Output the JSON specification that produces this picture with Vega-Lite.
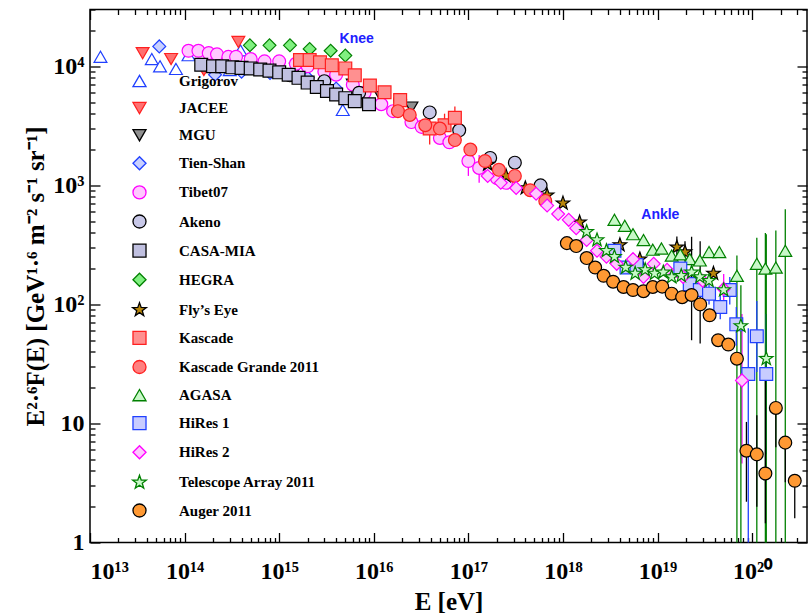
{
"$schema":"https://vega.github.io/schema/vega-lite/v6.json",
"width":717,"height":533,"autosize":"none",
"padding":{"left":90,"top":9.5,"right":2,"bottom":72},
"background":"white",
"config":{"view":{"stroke":"black","strokeWidth":1.5},
 "axis":{"labelFont":"Liberation Serif","labelFontSize":24,"labelFontWeight":"bold","labelColor":"black","titleFont":"Liberation Serif","titleFontSize":25,"titleFontWeight":"bold","titleColor":"black","grid":false,"domain":false,"tickColor":"black","tickWidth":1.3}},
"datasets":{"pts":[
{"s":"Grigorov","E":1.29e13,"F":12000},{"s":"Grigorov","E":4.5e13,"F":11500},{"s":"Grigorov","E":5.5e13,"F":10000},{"s":"Grigorov","E":8.1e13,"F":9500},{"s":"Grigorov","E":1.1e14,"F":12400},{"s":"Grigorov","E":3e14,"F":9300},{"s":"Grigorov","E":3.9e14,"F":13600},{"s":"Grigorov","E":4.7e15,"F":4300},
{"s":"JACEE","E":3.6e13,"F":12900},{"s":"JACEE","E":7.2e13,"F":11500},{"s":"JACEE","E":1.6e14,"F":9300},{"s":"JACEE","E":3.7e14,"F":16000},
{"s":"MGU","E":1.5e15,"F":9500},{"s":"MGU","E":3e15,"F":8800},{"s":"MGU","E":6e15,"F":7000},{"s":"MGU","E":1.2e16,"F":5500},{"s":"MGU","E":2.5e16,"F":4500},
{"s":"Tien-Shan","E":5.4e13,"F":14700},{"s":"Tien-Shan","E":2.1e14,"F":8500},{"s":"Tien-Shan","E":4e14,"F":9000},{"s":"Tien-Shan","E":8e14,"F":8800},{"s":"Tien-Shan","E":2e15,"F":8000},{"s":"Tien-Shan","E":4e15,"F":6500},
{"s":"Tibet07","E":1.1e14,"F":13500},{"s":"Tibet07","E":1.4e14,"F":13500},{"s":"Tibet07","E":1.8e14,"F":12900},{"s":"Tibet07","E":2.2e14,"F":12600},{"s":"Tibet07","E":2.9e14,"F":12000},{"s":"Tibet07","E":3.5e14,"F":12000},{"s":"Tibet07","E":5e14,"F":11500},{"s":"Tibet07","E":7e14,"F":11000},{"s":"Tibet07","E":1e15,"F":11000},{"s":"Tibet07","E":1.5e15,"F":10500},{"s":"Tibet07","E":2e15,"F":10000},{"s":"Tibet07","E":3e15,"F":9000},{"s":"Tibet07","E":4e15,"F":8500},{"s":"Tibet07","E":6e15,"F":7000},{"s":"Tibet07","E":8e15,"F":6000},{"s":"Tibet07","E":1.2e16,"F":4800},{"s":"Tibet07","E":1.6e16,"F":4200},{"s":"Tibet07","E":2.5e16,"F":3400},{"s":"Tibet07","E":3.2e16,"F":3100},{"s":"Tibet07","E":5e16,"F":2500},{"s":"Tibet07","E":6.3e16,"F":2300},{"s":"Tibet07","E":1e17,"F":1600,"lo":1200,"hi":2000},{"s":"Tibet07","E":1.3e17,"F":1400,"lo":1050,"hi":1800},{"s":"Tibet07","E":2e17,"F":1150},{"s":"Tibet07","E":2.5e17,"F":1050},
{"s":"Akeno","E":1.3e15,"F":8400},{"s":"Akeno","E":3e15,"F":7500},{"s":"Akeno","E":7e15,"F":6000},{"s":"Akeno","E":1.9e16,"F":5200},{"s":"Akeno","E":3.9e16,"F":4100},{"s":"Akeno","E":8e16,"F":2900},{"s":"Akeno","E":1.7e17,"F":1700},{"s":"Akeno","E":3.1e17,"F":1550},{"s":"Akeno","E":5.8e17,"F":1000},
{"s":"CASA-MIA","E":1.5e14,"F":10300},{"s":"CASA-MIA","E":2e14,"F":10000},{"s":"CASA-MIA","E":2.5e14,"F":10000},{"s":"CASA-MIA","E":3.2e14,"F":9800},{"s":"CASA-MIA","E":4e14,"F":9700},{"s":"CASA-MIA","E":5e14,"F":9600},{"s":"CASA-MIA","E":6.3e14,"F":9400},{"s":"CASA-MIA","E":7.9e14,"F":9200},{"s":"CASA-MIA","E":1e15,"F":8900},{"s":"CASA-MIA","E":1.26e15,"F":8500},{"s":"CASA-MIA","E":1.6e15,"F":8000},{"s":"CASA-MIA","E":2e15,"F":7300},{"s":"CASA-MIA","E":2.5e15,"F":6700},{"s":"CASA-MIA","E":3.2e15,"F":6200},{"s":"CASA-MIA","E":4e15,"F":5800},{"s":"CASA-MIA","E":5e15,"F":5400},{"s":"CASA-MIA","E":6.3e15,"F":5100},{"s":"CASA-MIA","E":8.9e15,"F":4800},
{"s":"HEGRA","E":4.9e14,"F":15000},{"s":"HEGRA","E":7.9e14,"F":15000},{"s":"HEGRA","E":1.3e15,"F":15000},{"s":"HEGRA","E":2.1e15,"F":14000},{"s":"HEGRA","E":3.5e15,"F":13500},{"s":"HEGRA","E":5e15,"F":12300},
{"s":"Fly’s Eye","E":1.6e17,"F":1500},{"s":"Fly’s Eye","E":2.5e17,"F":1200},{"s":"Fly’s Eye","E":4e17,"F":950},{"s":"Fly’s Eye","E":6.8e17,"F":826},{"s":"Fly’s Eye","E":1e18,"F":708},{"s":"Fly’s Eye","E":1.5e18,"F":490},{"s":"Fly’s Eye","E":4e18,"F":316},{"s":"Fly’s Eye","E":6.5e18,"F":240},{"s":"Fly’s Eye","E":1.6e19,"F":302,"lo":250,"hi":372},{"s":"Fly’s Eye","E":1.95e19,"F":275,"lo":230,"hi":340},{"s":"Fly’s Eye","E":3.9e19,"F":182},
{"s":"Kascade","E":1.66e15,"F":11300},{"s":"Kascade","E":2.1e15,"F":11300},{"s":"Kascade","E":2.7e15,"F":10800},{"s":"Kascade","E":3.6e15,"F":10200},{"s":"Kascade","E":5e15,"F":9600},{"s":"Kascade","E":6.3e15,"F":8400},{"s":"Kascade","E":9.1e15,"F":6900},{"s":"Kascade","E":1.3e16,"F":6050},{"s":"Kascade","E":1.9e16,"F":5200},{"s":"Kascade","E":3.9e16,"F":3000,"lo":2200,"hi":3900},{"s":"Kascade","E":5.6e16,"F":3200,"lo":2500,"hi":4000},{"s":"Kascade","E":7.2e16,"F":3700,"lo":2900,"hi":4600},
{"s":"Kascade Grande 2011","E":1.8e16,"F":4200},{"s":"Kascade Grande 2011","E":2.4e16,"F":3900},{"s":"Kascade Grande 2011","E":3.5e16,"F":3200},{"s":"Kascade Grande 2011","E":5e16,"F":3000},{"s":"Kascade Grande 2011","E":7.2e16,"F":2400},{"s":"Kascade Grande 2011","E":1.05e17,"F":2000},{"s":"Kascade Grande 2011","E":1.5e17,"F":1600},{"s":"Kascade Grande 2011","E":2.1e17,"F":1350},{"s":"Kascade Grande 2011","E":3.1e17,"F":1200},{"s":"Kascade Grande 2011","E":4.5e17,"F":910},{"s":"Kascade Grande 2011","E":6.5e17,"F":740},
{"s":"AGASA","E":3.5e18,"F":513},{"s":"AGASA","E":4.5e18,"F":457},{"s":"AGASA","E":5.5e18,"F":389},{"s":"AGASA","E":7.1e18,"F":347},{"s":"AGASA","E":8.9e18,"F":288},{"s":"AGASA","E":1.1e19,"F":295},{"s":"AGASA","E":1.41e19,"F":257},{"s":"AGASA","E":1.74e19,"F":263},{"s":"AGASA","E":2.19e19,"F":240},{"s":"AGASA","E":2.8e19,"F":234},{"s":"AGASA","E":3.5e19,"F":275},{"s":"AGASA","E":4.5e19,"F":275},{"s":"AGASA","E":6.9e19,"F":174,"lo":1,"hi":257},{"s":"AGASA","E":1.12e20,"F":219,"lo":1,"hi":363},{"s":"AGASA","E":1.38e20,"F":200,"lo":1,"hi":398},{"s":"AGASA","E":1.78e20,"F":204,"lo":1,"hi":417},{"s":"AGASA","E":2.24e20,"F":282,"lo":1,"hi":630},
{"s":"HiRes 1","E":3.5e18,"F":282},{"s":"HiRes 1","E":4.7e18,"F":204},{"s":"HiRes 1","E":6e18,"F":214},{"s":"HiRes 1","E":1.74e19,"F":200},{"s":"HiRes 1","E":2.19e19,"F":148},{"s":"HiRes 1","E":2.8e19,"F":132},{"s":"HiRes 1","E":3.5e19,"F":123,"lo":100,"hi":150},{"s":"HiRes 1","E":4.6e19,"F":95,"lo":75,"hi":120},{"s":"HiRes 1","E":5.8e19,"F":132,"lo":100,"hi":170},{"s":"HiRes 1","E":6.8e19,"F":68,"lo":45,"hi":95},{"s":"HiRes 1","E":9.1e19,"F":26,"lo":1,"hi":63},{"s":"HiRes 1","E":1.12e20,"F":54,"lo":27,"hi":107},{"s":"HiRes 1","E":1.41e20,"F":26,"lo":5.5,"hi":83},
{"s":"HiRes 2","E":1.6e17,"F":1200},{"s":"HiRes 2","E":2.2e17,"F":1050},{"s":"HiRes 2","E":3.2e17,"F":950},{"s":"HiRes 2","E":5.2e17,"F":851},{"s":"HiRes 2","E":6.8e17,"F":676},{"s":"HiRes 2","E":8.9e17,"F":575},{"s":"HiRes 2","E":1.15e18,"F":513},{"s":"HiRes 2","E":1.38e18,"F":437},{"s":"HiRes 2","E":1.78e18,"F":347},{"s":"HiRes 2","E":2.29e18,"F":282},{"s":"HiRes 2","E":2.88e18,"F":251},{"s":"HiRes 2","E":3.7e18,"F":219},{"s":"HiRes 2","E":5.5e18,"F":240},{"s":"HiRes 2","E":7.1e18,"F":170},{"s":"HiRes 2","E":9.1e18,"F":219},{"s":"HiRes 2","E":1.26e19,"F":195},{"s":"HiRes 2","E":1.86e19,"F":170},{"s":"HiRes 2","E":3e19,"F":158},{"s":"HiRes 2","E":5e19,"F":135,"lo":100,"hi":180},{"s":"HiRes 2","E":7.8e19,"F":23,"lo":4.6,"hi":83},
{"s":"Telescope Array 2011","E":1.78e18,"F":407},{"s":"Telescope Array 2011","E":2.29e18,"F":347},{"s":"Telescope Array 2011","E":2.88e18,"F":282},{"s":"Telescope Array 2011","E":3.5e18,"F":251},{"s":"Telescope Array 2011","E":4.6e18,"F":204},{"s":"Telescope Array 2011","E":5.8e18,"F":182},{"s":"Telescope Array 2011","E":7.4e18,"F":195},{"s":"Telescope Array 2011","E":9.3e18,"F":182},{"s":"Telescope Array 2011","E":1.15e19,"F":186},{"s":"Telescope Array 2011","E":1.41e19,"F":170},{"s":"Telescope Array 2011","E":1.78e19,"F":174},{"s":"Telescope Array 2011","E":2.29e19,"F":186},{"s":"Telescope Array 2011","E":2.8e19,"F":170},{"s":"Telescope Array 2011","E":3.5e19,"F":158},{"s":"Telescope Array 2011","E":5e19,"F":132},{"s":"Telescope Array 2011","E":7.6e19,"F":66,"lo":1,"hi":145},{"s":"Telescope Array 2011","E":1.41e20,"F":35,"lo":1,"hi":389},
{"s":"Auger 2011","E":1.1e18,"F":327},{"s":"Auger 2011","E":1.38e18,"F":309},{"s":"Auger 2011","E":1.78e18,"F":245},{"s":"Auger 2011","E":2.19e18,"F":204},{"s":"Auger 2011","E":2.69e18,"F":174},{"s":"Auger 2011","E":3.39e18,"F":155},{"s":"Auger 2011","E":4.37e18,"F":140},{"s":"Auger 2011","E":5.5e18,"F":132},{"s":"Auger 2011","E":7.1e18,"F":129},{"s":"Auger 2011","E":8.9e18,"F":140},{"s":"Auger 2011","E":1.12e19,"F":141},{"s":"Auger 2011","E":1.41e19,"F":123},{"s":"Auger 2011","E":1.82e19,"F":115},{"s":"Auger 2011","E":2.29e19,"F":120,"lo":50,"hi":370},{"s":"Auger 2011","E":2.82e19,"F":100,"lo":47,"hi":340},{"s":"Auger 2011","E":3.55e19,"F":81},{"s":"Auger 2011","E":4.37e19,"F":50},{"s":"Auger 2011","E":5.6e19,"F":46},{"s":"Auger 2011","E":6.9e19,"F":35},{"s":"Auger 2011","E":8.7e19,"F":5.9,"lo":2.2,"hi":10.3},{"s":"Auger 2011","E":1.12e20,"F":5.5,"lo":2,"hi":11.7},{"s":"Auger 2011","E":1.38e20,"F":3.8,"lo":1.45,"hi":25},{"s":"Auger 2011","E":1.78e20,"F":13.5,"lo":6.3,"hi":13.5},{"s":"Auger 2011","E":2.24e20,"F":6.9,"lo":3.2,"hi":6.9},{"s":"Auger 2011","E":2.82e20,"F":3.3,"lo":1.6,"hi":3.3}
],
"labels":[{"t":"Knee","E":6.6e15,"F":17000},{"t":"Ankle","E":1.07e19,"F":565}]
},
"resolve":{"axis":{"x":"independent","y":"independent"}},
"layer":[
{"data":{"name":"pts"},"transform":[{"filter":"isValid(datum.lo)"}],
 "mark":{"type":"rule","strokeWidth":1.3},
 "encoding":{"x":{"field":"E","type":"quantitative","scale":{"type":"log","domain":[1e13,3.8e20],"nice":false},"axis":null},
  "y":{"field":"lo","type":"quantitative","scale":{"type":"log","domain":[1,30000],"nice":false},"axis":null},
  "y2":{"field":"hi"},
  "stroke":{"field":"s","type":"nominal"}}},
{"data":{"name":"pts"},
 "mark":{"type":"point","filled":true,"size":165,"strokeWidth":1.2,"opacity":1},
 "encoding":{
  "x":{"field":"E","type":"quantitative","scale":{"type":"log","domain":[1e13,3.8e20],"nice":false},
   "axis":{"title":"E [eV]","values":[1e13,2e13,3e13,4e13,5e13,6e13,7e13,8e13,9e13,1e14,2e14,3e14,4e14,5e14,6e14,7e14,8e14,9e14,1e15,2e15,3e15,4e15,5e15,6e15,7e15,8e15,9e15,1e16,2e16,3e16,4e16,5e16,6e16,7e16,8e16,9e16,1e17,2e17,3e17,4e17,5e17,6e17,7e17,8e17,9e17,1e18,2e18,3e18,4e18,5e18,6e18,7e18,8e18,9e18,1e19,2e19,3e19,4e19,5e19,6e19,7e19,8e19,9e19,1e20,2e20,3e20],
    "tickSize":{"condition":{"test":"abs(log(datum.value)/LN10 - round(log(datum.value)/LN10)) < 0.01","value":-10},"value":-5},
    "labelPadding":27,"titlePadding":6,
    "labelExpr":"abs(log(datum.value)/LN10 - round(log(datum.value)/LN10)) < 0.01 ? '10' + replace(replace(replace(replace(replace(replace(replace(replace(replace(replace(format(round(log(datum.value)/LN10),'d'),'0','⁰'),'1','¹'),'2','²'),'3','³'),'4','⁴'),'5','⁵'),'6','⁶'),'7','⁷'),'8','⁸'),'9','⁹') : ''"}},
  "y":{"field":"F","type":"quantitative","scale":{"type":"log","domain":[1,30000],"nice":false},
   "axis":{"title":"E²·⁶F(E) [GeV¹·⁶ m⁻² s⁻¹ sr⁻¹]","values":[1,2,3,4,5,6,7,8,9,10,20,30,40,50,60,70,80,90,100,200,300,400,500,600,700,800,900,1000,2000,3000,4000,5000,6000,7000,8000,9000,10000,20000,30000],
    "tickSize":{"condition":{"test":"abs(log(datum.value)/LN10 - round(log(datum.value)/LN10)) < 0.01","value":-10},"value":-5},
    "labelPadding":16,"titlePadding":4,
    "labelExpr":"abs(log(datum.value)/LN10 - round(log(datum.value)/LN10)) < 0.01 ? (round(log(datum.value)/LN10)==0 ? '1' : round(log(datum.value)/LN10)==1 ? '10' : '10' + replace(replace(replace(format(round(log(datum.value)/LN10),'d'),'2','²'),'3','³'),'4','⁴')) : ''"}},
  "shape":{"field":"s","type":"nominal","legend":{"orient":"none","legendX":42,"legendY":64,"title":null,"labelFont":"Liberation Serif","labelFontSize":15,"labelFontWeight":"bold","labelColor":"black","labelBaseline":"middle","symbolSize":170,"symbolStrokeWidth":1.3,"rowPadding":10.1,"labelOffset":32,"symbolOpacity":1},"scale":{"domain":["Grigorov","JACEE","MGU","Tien-Shan","Tibet07","Akeno","CASA-MIA","HEGRA","Fly’s Eye","Kascade","Kascade Grande 2011","AGASA","HiRes 1","HiRes 2","Telescope Array 2011","Auger 2011"],
    "range":["triangle-up","triangle-down","triangle-down","diamond","circle","circle","square","diamond","M0,-1.1L0.26,-0.36L1.05,-0.34L0.42,0.13L0.65,0.89L0,0.43L-0.65,0.89L-0.42,0.13L-1.05,-0.34L-0.26,-0.36Z","square","circle","triangle-up","square","diamond","M0,-1.1L0.26,-0.36L1.05,-0.34L0.42,0.13L0.65,0.89L0,0.43L-0.65,0.89L-0.42,0.13L-1.05,-0.34L-0.26,-0.36Z","circle"]}},
  "fill":{"field":"s","type":"nominal","scale":{"domain":["Grigorov","JACEE","MGU","Tien-Shan","Tibet07","Akeno","CASA-MIA","HEGRA","Fly’s Eye","Kascade","Kascade Grande 2011","AGASA","HiRes 1","HiRes 2","Telescope Array 2011","Auger 2011"],
    "range":["#ffffff","#ff7070","#909090","#c8d0ff","#ffc8ff","#c8c8e8","#c0c0e0","#80f080","#b8860b","#ff9090","#ff8080","#c8f8c8","#c8ccff","#ffc8ff","#c8f8c8","#ff9933"]}},
  "stroke":{"field":"s","type":"nominal","scale":{"domain":["Grigorov","JACEE","MGU","Tien-Shan","Tibet07","Akeno","CASA-MIA","HEGRA","Fly’s Eye","Kascade","Kascade Grande 2011","AGASA","HiRes 1","HiRes 2","Telescope Array 2011","Auger 2011"],
    "range":["#2040ff","#ff2020","#000000","#2040ff","#ff00ff","#000000","#000000","#008000","#000000","#ff2020","#ff2020","#008000","#2040ff","#ff00ff","#008000","#000000"]}}}},
{"data":{"name":"labels"},
 "mark":{"type":"text","font":"Liberation Sans","fontSize":14,"fontWeight":"bold","color":"#2020ff"},
 "encoding":{"x":{"field":"E","type":"quantitative","scale":{"type":"log","domain":[1e13,3.8e20],"nice":false},"axis":null},
  "y":{"field":"F","type":"quantitative","scale":{"type":"log","domain":[1,30000],"nice":false},"axis":null},
  "text":{"field":"t"}}},
{"data":{"name":"labels"},
 "mark":{"type":"point","opacity":0},
 "encoding":{"x":{"field":"E","type":"quantitative","scale":{"type":"log","domain":[1e13,3.8e20],"nice":false},
   "axis":{"orient":"top","title":null,"labels":false,"values":[1e13,2e13,3e13,4e13,5e13,6e13,7e13,8e13,9e13,1e14,2e14,3e14,4e14,5e14,6e14,7e14,8e14,9e14,1e15,2e15,3e15,4e15,5e15,6e15,7e15,8e15,9e15,1e16,2e16,3e16,4e16,5e16,6e16,7e16,8e16,9e16,1e17,2e17,3e17,4e17,5e17,6e17,7e17,8e17,9e17,1e18,2e18,3e18,4e18,5e18,6e18,7e18,8e18,9e18,1e19,2e19,3e19,4e19,5e19,6e19,7e19,8e19,9e19,1e20,2e20,3e20],
    "tickSize":{"condition":{"test":"abs(log(datum.value)/LN10 - round(log(datum.value)/LN10)) < 0.01","value":-10},"value":-5}}},
  "y":{"field":"F","type":"quantitative","scale":{"type":"log","domain":[1,30000],"nice":false},
   "axis":{"orient":"right","title":null,"labels":false,"values":[1,2,3,4,5,6,7,8,9,10,20,30,40,50,60,70,80,90,100,200,300,400,500,600,700,800,900,1000,2000,3000,4000,5000,6000,7000,8000,9000,10000,20000,30000],
    "tickSize":{"condition":{"test":"abs(log(datum.value)/LN10 - round(log(datum.value)/LN10)) < 0.01","value":-10},"value":-5}}}}}
]
}
